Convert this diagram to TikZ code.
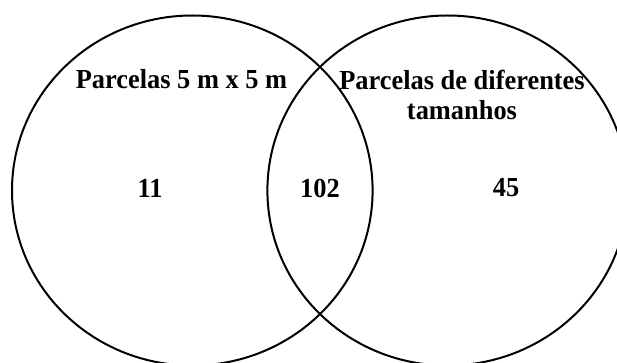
\documentclass[tikz,border=0pt]{standalone}
\usepackage{fontspec}
\setmainfont{Liberation Serif}[FakeStretch=0.96]
\usetikzlibrary{shapes.geometric}
\begin{document}
\begin{tikzpicture}[x=1pt,y=-1pt,
  set/.style={ellipse,draw=black,line width=2pt,minimum width=360.6pt,minimum height=350pt,inner sep=0pt},
  lbl/.style={font=\bfseries\fontsize{27.5}{30}\selectfont,align=center,inner sep=0pt}]
\useasboundingbox (0,0) rectangle (617,363);
\clip (0,0) rectangle (617,363);
\node[set] (A) at (192.3,190.5) {};
\node[set] (B) at (447.7,190.5) {};
\node[lbl] (la) at (181.5,79.5) {Parcelas 5 m x 5 m};
\node[lbl] (lb) at (462,95) {Parcelas de diferentes\\tamanhos};
\node[lbl] (n1) at (150,188) {11};
\node[lbl] (n2) at (320,188) {102};
\node[lbl] (n3) at (506,188) {45};
\end{tikzpicture}
\end{document}
